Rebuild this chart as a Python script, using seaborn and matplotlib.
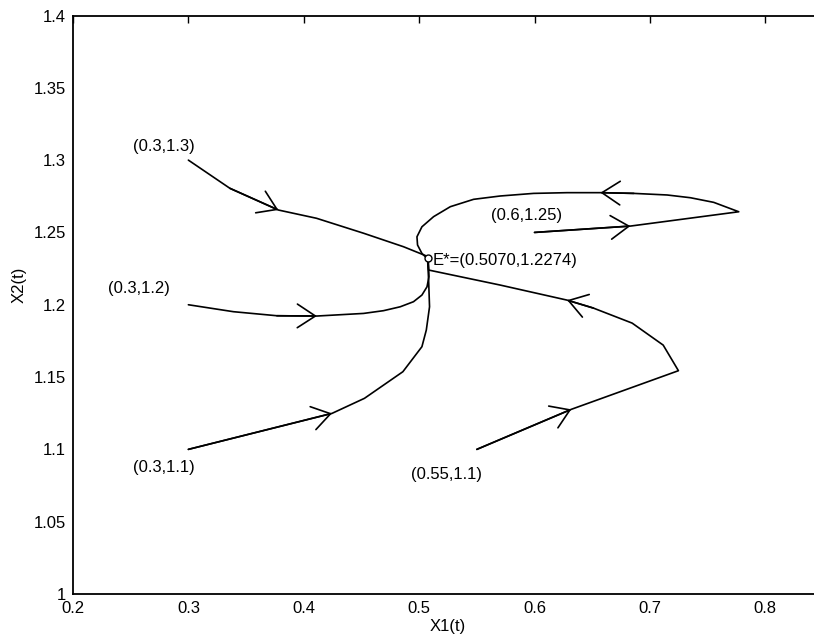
import numpy as np
import pandas as pd
import matplotlib
matplotlib.use("Agg")
import matplotlib.pyplot as plt
import seaborn as sns

# ---- data ----
traj1_x = [0.300, 0.336, 0.378, 0.411, 0.452, 0.4865, 0.507]
traj1_y = [1.300, 1.2805, 1.2655, 1.2598, 1.2494, 1.2401, 1.2335]

traj2_x = [0.300, 0.339, 0.3767, 0.4114, 0.4518, 0.4691, 0.4836, 0.4951, 0.5024,
           0.5068, 0.5085, 0.5080]
traj2_y = [1.200, 1.1952, 1.1924, 1.1922, 1.1940, 1.1959, 1.1986, 1.2021, 1.2067,
           1.2124, 1.2194, 1.2300]

traj3_x = [0.300, 0.4245, 0.4526, 0.4859, 0.5024, 0.5062, 0.5090, 0.5082, 0.5074]
traj3_y = [1.100, 1.1249, 1.1353, 1.1537, 1.1710, 1.1825, 1.1986, 1.2171, 1.2300]

traj4_x = [0.600, 0.6831, 0.777, 0.7553, 0.7351, 0.7149, 0.686, 0.6571, 0.6282,
           0.5992, 0.5703, 0.5472, 0.527, 0.5125, 0.5024, 0.4981, 0.4986, 0.5024,
           0.5068]
traj4_y = [1.250, 1.2544, 1.2643, 1.2708, 1.2740, 1.2759, 1.2770, 1.2775, 1.2775,
           1.2770, 1.2752, 1.2729, 1.2678, 1.2609, 1.2539, 1.2470, 1.2413, 1.2355,
           1.2321]

traj5_x = [0.550, 0.6319, 0.7247, 0.7115, 0.6846, 0.651, 0.6282, 0.5703, 0.5082, 0.5076]
traj5_y = [1.100, 1.1277, 1.1544, 1.1721, 1.1873, 1.1977, 1.2032, 1.2136, 1.2240, 1.2300]

# index of curve vertex where a direction arrow sits
arrow_idx = {1: [2], 2: [3], 3: [1], 4: [1, 7], 5: [1, 6]}

eq_x, eq_y = 0.5076, 1.2321
eq_label = "E*=(0.5070,1.2274)"

start_labels = ["(0.3,1.3)", "(0.3,1.2)", "(0.3,1.1)", "(0.6,1.25)", "(0.55,1.1)"]
label_x = [0.252, 0.2304, 0.252, 0.5625, 0.4931]
label_y = [1.3097, 1.2109, 1.0878, 1.2620, 1.0829]

xticks = [0.2, 0.3, 0.4, 0.5, 0.6, 0.7, 0.8]
xtick_labels = ["0.2", "0.3", "0.4", "0.5", "0.6", "0.7", "0.8"]
yticks = [1.0, 1.05, 1.1, 1.15, 1.2, 1.25, 1.3, 1.35, 1.4]
ytick_labels = ["1", "1.05", "1.1", "1.15", "1.2", "1.25", "1.3", "1.35", "1.4"]

# ---- build table ----
trajs = {1: (traj1_x, traj1_y), 2: (traj2_x, traj2_y), 3: (traj3_x, traj3_y),
         4: (traj4_x, traj4_y), 5: (traj5_x, traj5_y)}
rows = []
for k, (xs, ys) in trajs.items():
    for i, (a, b) in enumerate(zip(xs, ys)):
        rows.append({"traj": k, "order": i, "x": a, "y": b})
df = pd.DataFrame(rows)

sns.set_theme(style="white")
plt.rcParams["font.family"] = ["Liberation Sans", "DejaVu Sans"]
plt.rcParams["text.color"] = "black"
plt.rcParams["axes.labelcolor"] = "black"

fig = plt.figure(figsize=(8.14, 6.39), dpi=100)
ax = fig.add_axes([73 / 814, 45 / 639, 750 / 814, 578.5 / 639])

sns.lineplot(data=df, x="x", y="y", units="traj", estimator=None, sort=False,
             color="black", linewidth=1.2, ax=ax)

for k, idxs in arrow_idx.items():
    xs, ys = trajs[k]
    for i in idxs:
        ax.annotate("", xy=(xs[i], ys[i]), xytext=(xs[i - 1], ys[i - 1]),
                    arrowprops=dict(arrowstyle="->,head_length=1.3,head_width=0.85",
                                    color="black", lw=1.2, mutation_scale=10,
                                    shrinkA=0, shrinkB=0))

ax.plot([eq_x], [eq_y], marker="o", markersize=5, markerfacecolor="white",
        markeredgecolor="black", markeredgewidth=1.0, zorder=5)
ax.text(eq_x + 0.0045, eq_y - 0.0012, eq_label, fontsize=12, va="center", ha="left",
        color="black")

for t, lx, ly in zip(start_labels, label_x, label_y):
    ax.text(lx, ly, t, fontsize=12, va="center", ha="left", color="black")

ax.set_xlim(0.2, 0.85)
ax.set_ylim(1.0, 1.4)
ax.set_xticks(xticks)
ax.set_xticklabels(xtick_labels)
ax.set_yticks(yticks)
ax.set_yticklabels(ytick_labels)
ax.tick_params(direction="in", length=5, width=1, top=True, right=True,
               labelsize=12, pad=5, colors="black")
for s in ax.spines.values():
    s.set_visible(True)
    s.set_color("black")
    s.set_linewidth(1.3)
ax.set_xlabel("X1(t)", fontsize=12, labelpad=2, color="black")
ax.set_ylabel("X2(t)", fontsize=12, labelpad=4, color="black")
ax.yaxis.set_label_coords(-0.062, 0.534)
ax.grid(False)

fig.savefig("out.png", dpi=100, facecolor="white")
